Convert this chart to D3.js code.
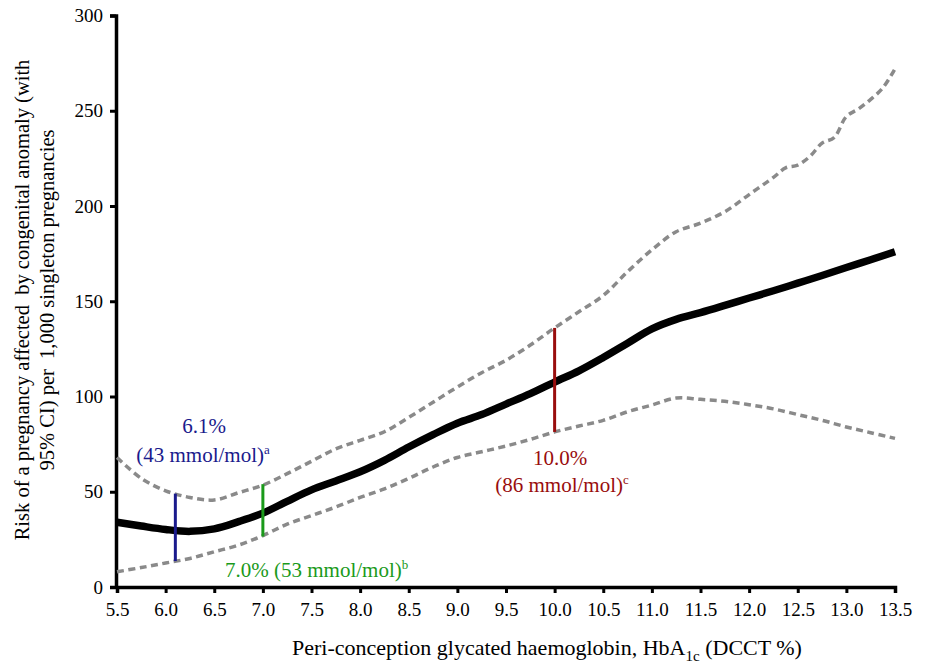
<!DOCTYPE html>
<html>
<head>
<meta charset="utf-8">
<script src="https://cdn.jsdelivr.net/npm/d3@7"></script>
<style>
  html, body { margin: 0; padding: 0; background: #fff; }
  svg { display: block; }
</style>
</head>
<body>
<svg id="chart" width="925" height="664" font-family="Liberation Serif, Times New Roman, serif"></svg>
<script>
// HbA1c grid (DCCT %) for the fitted risk curve and lower 95% CI
const hba1c = [5.5, 5.75, 6.0, 6.25, 6.5, 6.75, 7.0, 7.25, 7.5, 7.75, 8.0, 8.25, 8.5, 8.75,
  9.0, 9.25, 9.5, 9.75, 10.0, 10.25, 10.5, 10.75, 11.0, 11.25, 11.5, 11.75, 12.0, 12.25,
  12.5, 12.75, 13.0, 13.25, 13.5];

// Fitted risk per 1,000 singleton pregnancies
const risk = [34, 32, 30.2, 29.2, 30.5, 34.3, 38.8, 45, 51, 55.7, 60.5, 66.5, 73.5, 80,
  86, 90.5, 96, 101.5, 107.6, 113.5, 120.5, 128, 135.5, 140.5, 144, 147.8, 151.7, 155.5,
  159.5, 163.5, 167.7, 171.8, 176];

// Lower 95% confidence limit
const lowerCI = [8, 10.2, 12.6, 15, 18.5, 22, 27, 33, 37.5, 42, 47, 51.5, 57, 63,
  68, 71, 74, 77.5, 81.4, 84.5, 87.5, 92, 95.5, 99.2, 98.5, 97.5, 95.7, 93.5,
  90.5, 87.5, 84, 81, 78];

// Upper 95% confidence limit (finer grid where the band becomes irregular)
const hba1cUpper = [5.5, 5.75, 6.0, 6.25, 6.5, 6.75, 7.0, 7.25, 7.5, 7.75, 8.0, 8.25, 8.5, 8.75,
  9.0, 9.25, 9.5, 9.75, 10.0, 10.25, 10.5, 10.75, 11.0, 11.25, 11.5, 11.75, 12.0, 12.25,
  12.375, 12.5, 12.625, 12.75, 12.875, 13.0, 13.125, 13.25, 13.375, 13.5];
const upperCI = [68, 57, 50.5, 47, 45.7, 49.5, 53.5, 59.5, 66, 72.5, 77, 81.5, 89, 97,
  105, 112.5, 119, 127, 136, 144.5, 153, 165.5, 177, 186.5, 191, 197, 206, 215,
  220, 221.5, 226, 233, 236, 247, 251, 256, 262, 272];

// Marked HbA1c thresholds with their confidence interval span
const markerHbA1c = [6.1, 7.0, 10.0];
const markerLow = [13.6, 26.5, 81.4];
const markerHigh = [49, 54, 136];
const markerColors = ["#1a1a8c", "#1a9a1a", "#990d0d"];

const xTicks = [5.5, 6.0, 6.5, 7.0, 7.5, 8.0, 8.5, 9.0, 9.5, 10.0, 10.5, 11.0, 11.5, 12.0, 12.5, 13.0, 13.5];
const yTicks = [0, 50, 100, 150, 200, 250, 300];

const serif = "Liberation Serif, Times New Roman, serif";
const svg = d3.select("#chart");
const x = d3.scaleLinear().domain([5.5, 13.5]).range([117, 895]);
const y = d3.scaleLinear().domain([0, 300]).range([587, 15.5]);

// Axes
const xAxis = svg.append("g").attr("transform", `translate(0,${y(0)})`)
  .call(d3.axisBottom(x).tickValues(xTicks).tickFormat(d3.format(".1f")).tickSizeOuter(0).tickSize(6).tickPadding(5));
const yAxis = svg.append("g").attr("transform", `translate(${x(5.5) - 1},0)`)
  .call(d3.axisLeft(y).tickValues(yTicks).tickSizeOuter(0).tickSize(6).tickPadding(7));
[xAxis, yAxis].forEach(g => {
  g.attr("font-family", serif).attr("font-size", 19);
  g.select(".domain").attr("stroke", "#000").attr("stroke-width", 3.5);
  g.selectAll(".tick line").attr("stroke", "#000").attr("stroke-width", 3);
  g.selectAll(".tick text").attr("fill", "#000");
});
xAxis.selectAll(".tick text").attr("dy", "0.95em");

// Confidence band limits
const line = d3.line().x(d => x(d[0])).y(d => y(d[1])).curve(d3.curveCatmullRom.alpha(0.5));
svg.append("path")
  .datum(hba1c.map((h, i) => [h, lowerCI[i]]))
  .attr("d", line).attr("fill", "none").attr("stroke", "#8a8a8a")
  .attr("stroke-width", 3.5).attr("stroke-dasharray", "7,4.5");
svg.append("path")
  .datum(hba1cUpper.map((h, i) => [h, upperCI[i]]))
  .attr("d", line).attr("fill", "none").attr("stroke", "#8a8a8a")
  .attr("stroke-width", 3.5).attr("stroke-dasharray", "7,4.5");

// Fitted risk curve
svg.append("path")
  .datum(hba1c.map((h, i) => [h, risk[i]]))
  .attr("d", line).attr("fill", "none").attr("stroke", "#000")
  .attr("stroke-width", 7.5).attr("stroke-linejoin", "round");

// Threshold markers
svg.selectAll("line.marker").data(markerHbA1c).enter().append("line")
  .attr("class", "marker")
  .attr("x1", d => x(d)).attr("x2", d => x(d))
  .attr("y1", (d, i) => y(markerLow[i])).attr("y2", (d, i) => y(markerHigh[i]))
  .attr("stroke", (d, i) => markerColors[i]).attr("stroke-width", 3);

// Marker labels
const ann = svg.append("g").attr("font-size", 21);
ann.append("text").attr("x", 204).attr("y", 433).attr("text-anchor", "middle")
  .attr("fill", markerColors[0]).text("6.1%");
const a2 = ann.append("text").attr("x", 203).attr("y", 462).attr("text-anchor", "middle")
  .attr("fill", markerColors[0]);
a2.append("tspan").text("(43 mmol/mol)");
a2.append("tspan").attr("dy", -8).attr("font-size", 13).text("a");

const b = ann.append("text").attr("x", 225).attr("y", 577).attr("fill", markerColors[1]);
b.append("tspan").text("7.0% (53 mmol/mol)");
b.append("tspan").attr("dy", -8).attr("font-size", 13).text("b");

ann.append("text").attr("x", 560).attr("y", 465).attr("text-anchor", "middle")
  .attr("fill", markerColors[2]).text("10.0%");
const c = ann.append("text").attr("x", 562).attr("y", 492).attr("text-anchor", "middle")
  .attr("fill", markerColors[2]);
c.append("tspan").text("(86 mmol/mol)");
c.append("tspan").attr("dy", -8).attr("font-size", 13).text("c");

// Axis titles
const xt = svg.append("text").attr("x", 547).attr("y", 655).attr("text-anchor", "middle")
  .attr("font-size", 22).attr("fill", "#000");
xt.append("tspan").text("Peri-conception glycated haemoglobin, HbA");
xt.append("tspan").attr("dy", 6).attr("font-size", 15).text("1c");
xt.append("tspan").attr("dy", -6).text(" (DCCT %)");

const yt = svg.append("text").attr("transform", "translate(0,300) rotate(-90)")
  .attr("text-anchor", "middle").attr("font-size", 20.5).attr("fill", "#000")
  .style("white-space", "pre");
yt.append("tspan").attr("x", 0).attr("y", 29).text("Risk of a pregnancy affected  by congenital anomaly (with");
yt.append("tspan").attr("x", 0).attr("y", 54).text("95% CI) per  1,000 singleton pregnancies");
</script>
</body>
</html>
